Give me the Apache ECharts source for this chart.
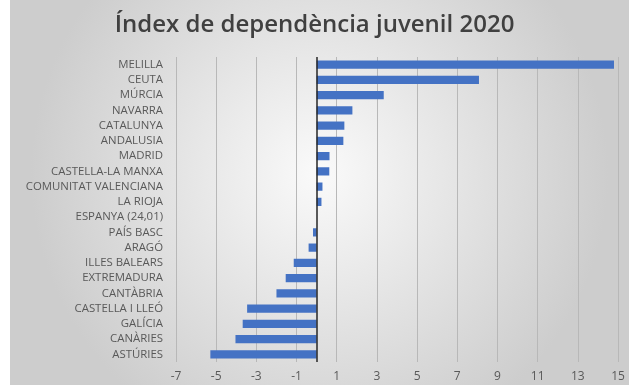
<!DOCTYPE html>
<html>
<head>
<meta charset="utf-8">
<script src="https://cdn.jsdelivr.net/npm/echarts@6/dist/echarts.min.js"></script>
<style>
html,body{margin:0;padding:0;background:#fff;}
#c{width:629px;height:385px;}
</style>
</head>
<body>
<div id="c"></div>
<script>
var categories = ["MELILLA","CEUTA","MÚRCIA","NAVARRA","CATALUNYA","ANDALUSIA","MADRID","CASTELLA-LA MANXA","COMUNITAT VALENCIANA","LA RIOJA","ESPANYA (24,01)","PAÍS BASC","ARAGÓ","ILLES BALEARS","EXTREMADURA","CANTÀBRIA","CASTELLA I LLEÓ","GALÍCIA","CANÀRIES","ASTÚRIES"];
var values = [14.8, 8.08, 3.34, 1.78, 1.38, 1.33, 0.64, 0.63, 0.29, 0.24, 0, -0.18, -0.40, -1.14, -1.54, -2.0, -3.46, -3.68, -4.04, -5.29];
var titleText = "Índex de dependència juvenil 2020";

var chart = echarts.init(document.getElementById('c'), null, {renderer: 'canvas'});
chart.setOption({
  animation: false,
  graphic: [{
    type: 'rect', z: -10, silent: true,
    shape: {x: 10, y: 0, width: 619, height: 385},
    style: {fill: new echarts.graphic.RadialGradient(0.5, 0.45, 0.75, [
      {offset: 0, color: '#fafafa'},
      {offset: 1, color: '#cdcdcd'}
    ])}
  }],
  title: {
    text: titleText, left: 'center', top: 8,
    textStyle: {fontFamily: 'Open Sans', fontSize: 24, fontWeight: 600, color: '#404040'}
  },
  grid: {left: 176, right: 11, top: 57, bottom: 23, containLabel: false},
  xAxis: {
    type: 'value', min: -7, max: 15, interval: 2,
    axisLine: {show: false}, axisTick: {show: false},
    axisLabel: {color: '#595959', fontFamily: 'Open Sans', fontSize: 12, margin: 9},
    splitLine: {lineStyle: {color: '#b8b8b8', width: 1}}
  },
  yAxis: {
    type: 'category', data: categories, inverse: true,
    axisLine: {show: false}, axisTick: {show: false},
    axisLabel: {color: '#595959', fontFamily: 'Open Sans', fontSize: 11.4, margin: 13}
  },
  series: [{
    type: 'bar', data: values, barCategoryGap: '46%',
    itemStyle: {color: '#4472C4'},
    markLine: {
      silent: true, symbol: 'none', label: {show: false},
      lineStyle: {color: '#262626', width: 1.5, type: 'solid'},
      data: [{xAxis: 0}]
    }
  }]
});
</script>
</body>
</html>
